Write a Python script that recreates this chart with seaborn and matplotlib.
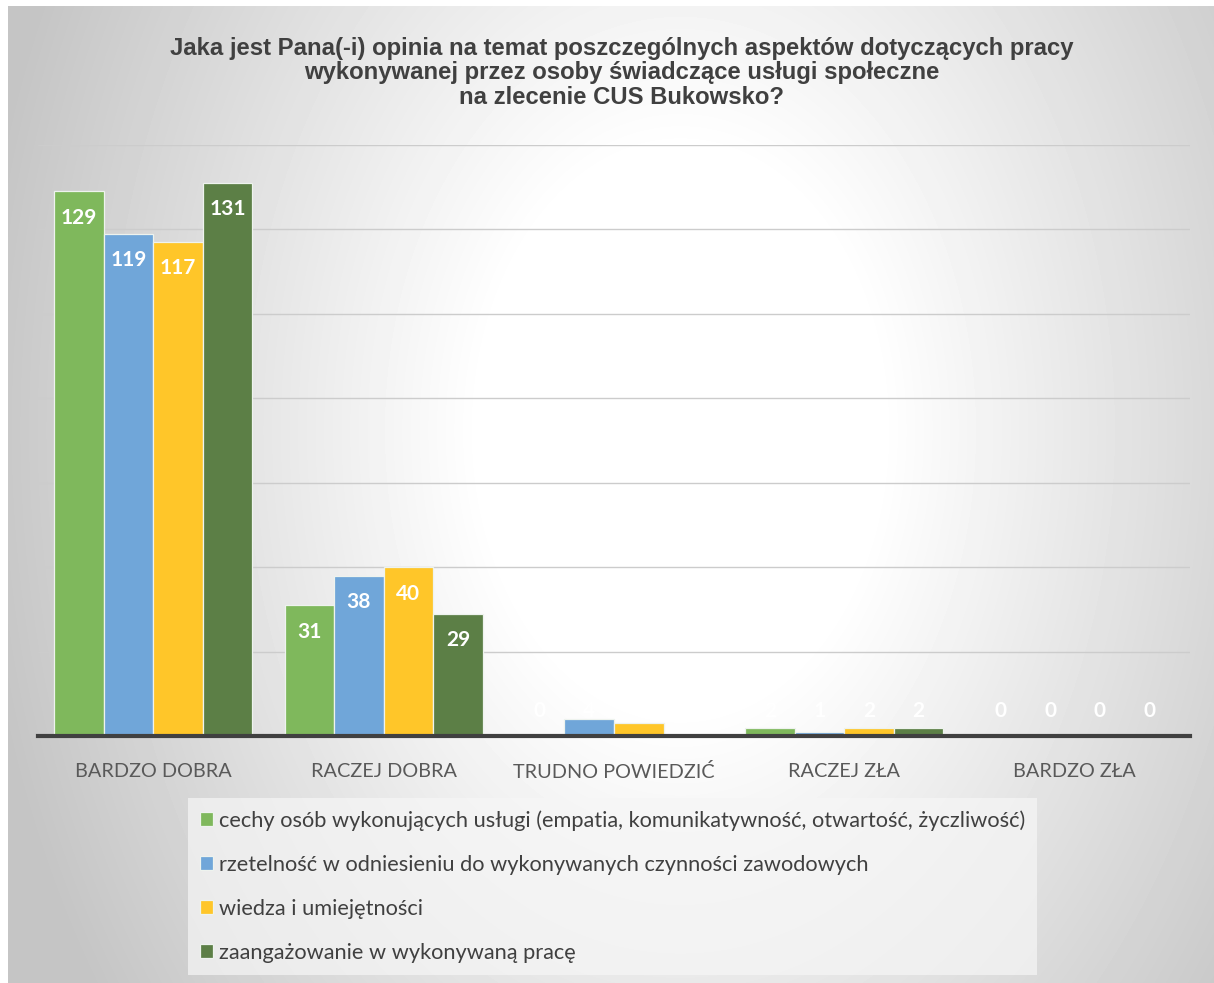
import numpy as np
import pandas as pd
import seaborn as sns
import matplotlib.pyplot as plt

categories = ['BARDZO DOBRA', 'RACZEJ DOBRA', 'TRUDNO POWIEDZIĆ', 'RACZEJ ZŁA', 'BARDZO ZŁA']
aspects = [
    'cechy osób wykonujących usługi (empatia, komunikatywność, otwartość, życzliwość)',
    'rzetelność w odniesieniu do wykonywanych czynności zawodowych',
    'wiedza i umiejętności',
    'zaangażowanie w wykonywaną pracę',
]
cechy = [129, 31, 0, 2, 0]
rzetelnosc = [119, 38, 4, 1, 0]
wiedza = [117, 40, 3, 2, 0]
zaangazowanie = [131, 29, 0, 2, 0]
colors = ['#7fb85c', '#70a6d9', '#ffc629', '#5c7f46']

rows = []
for aspect, vals in zip(aspects, [cechy, rzetelnosc, wiedza, zaangazowanie]):
    for cat, v in zip(categories, vals):
        rows.append({'kategoria': cat, 'aspekt': aspect, 'liczba': v})
df = pd.DataFrame(rows)

sns.set_style('white')
plt.rcParams['font.family'] = ['Lato', 'DejaVu Sans']

fig = plt.figure(figsize=(12.14, 9.83), dpi=100, facecolor='white')

# background: grey with a soft white glow (like the Excel chart area)
bg = fig.add_axes([8 / 1214, 0, 1206 / 1214, 977 / 983], zorder=-10)
yy, xx = np.mgrid[6:983, 8:1214]
r = np.sqrt((xx - 680) ** 2 + ((yy - 430) / 1.4) ** 2)
shade = np.clip(1.0 - 0.00045 * np.maximum(r - 200, 0), 0.77, 1.0)
bg.imshow(shade, cmap='gray', vmin=0, vmax=1, aspect='auto',
          extent=[8, 1214, 983, 6])
bg.axis('off')

ax = fig.add_axes([38 / 1214, 1 - 736 / 983, 1152 / 1214, 591 / 983])
ax.patch.set_alpha(0)
sns.barplot(data=df, x='kategoria', y='liczba', hue='aspekt', palette=colors,
            saturation=1, width=0.86, edgecolor='#eef3ee', linewidth=0.9,
            ax=ax, legend=True, zorder=3)

# data labels: inside end, small bars get the label just above the axis
for c in ax.containers:
    for bar in c:
        h = bar.get_height()
        x = bar.get_x() + bar.get_width() / 2
        if h >= 8:
            ax.annotate(f'{h:.0f}', xy=(x, h), xytext=(0, -19), textcoords='offset points',
                        ha='center', va='center', color='white', fontsize=15,
                        fontweight='bold', zorder=6)
        else:
            ax.annotate(f'{h:.0f}', xy=(x, 0), xytext=(0, 18), textcoords='offset points',
                        ha='center', va='center', color='white', fontsize=15,
                        fontweight='bold', zorder=6)

ax.set_ylim(0, 140)
ax.set_xlim(-0.5, 4.5)
ax.set_yticks([20, 40, 60, 80, 100, 120, 140])
ax.yaxis.grid(True, color='#cccccc', lw=1)
ax.tick_params(axis='y', left=False, labelleft=False)
ax.tick_params(axis='x', bottom=False, labelsize=14.3, labelcolor='#595959', pad=16)
for s in ['top', 'right', 'left']:
    ax.spines[s].set_visible(False)
ax.spines['bottom'].set_color('#404040')
ax.spines['bottom'].set_linewidth(3)
ax.spines['bottom'].set_zorder(5)
ax.set_xlabel('')
ax.set_ylabel('')

handles, labels = ax.get_legend_handles_labels()
ax.get_legend().remove()
leg = fig.legend(handles, labels, loc='upper left',
                 bbox_to_anchor=(188 / 1214, 1 - 798 / 983),
                 fontsize=15.7, frameon=True, fancybox=False, handlelength=0.6,
                 handleheight=0.6, handletextpad=0.25, labelspacing=1.1,
                 borderpad=0.55, borderaxespad=0)
leg.get_frame().set_facecolor('#f6f6f6')
leg.get_frame().set_alpha(0.7)
leg.get_frame().set_edgecolor('none')
for t in leg.get_texts():
    t.set_color('#404040')

fig.text(0.512, 1 - 73 / 983,
         'Jaka jest Pana(-i) opinia na temat poszczególnych aspektów dotyczących pracy\n'
         'wykonywanej przez osoby świadczące usługi społeczne\n'
         'na zlecenie CUS Bukowsko?',
         ha='center', va='center', fontsize=17.2, fontweight='bold', color='#404040',
         family=['Liberation Sans', 'DejaVu Sans'], linespacing=1.1)

fig.savefig('out.png', dpi=100, facecolor='white')
